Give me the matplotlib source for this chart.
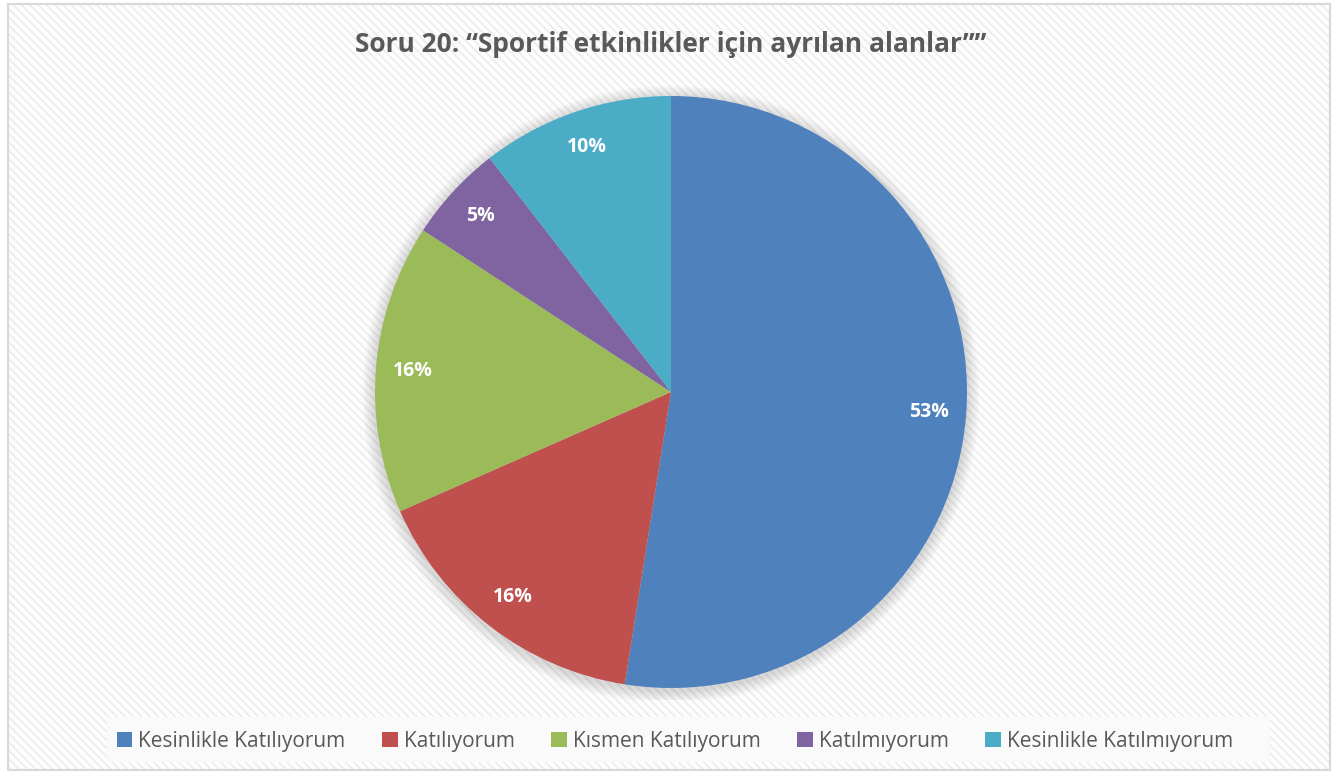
import matplotlib
matplotlib.use("Agg")
import matplotlib.pyplot as plt
from matplotlib.patches import Rectangle, Circle

categories = ["Kesinlikle Katılıyorum", "Katılıyorum", "Kısmen Katılıyorum",
              "Katılmıyorum", "Kesinlikle Katılmıyorum"]
values = [52.5, 15.9, 15.8, 5.3, 10.5]
value_labels = ["53%", "16%", "16%", "5%", "10%"]
colors = ["#4F81BD", "#C0504D", "#9BBB59", "#8064A2", "#4BACC6"]
title = "Soru 20: \u201cSportif etkinlikler için ayrılan alanlar\u201d\u201d"

W, H = 1335, 775
fig = plt.figure(figsize=(W / 100, H / 100), dpi=100)
fig.patch.set_facecolor("white")

def fx(px):
    return px / W

def fy(py):
    return 1 - py / H

# background chart area with diagonal hatch and border
plt.rcParams['hatch.linewidth'] = 1.2
bg = Rectangle((fx(8), fy(770)), fx(1330) - fx(8), fy(4) - fy(770),
               transform=fig.transFigure, facecolor="#fdfdfd",
               edgecolor="#ececec", hatch="\\\\\\\\", lw=0, zorder=-3)
fig.patches.append(bg)
border = Rectangle((fx(8), fy(770)), fx(1330) - fx(8), fy(4) - fy(770),
                   transform=fig.transFigure, facecolor="none",
                   edgecolor="#d9d9d9", lw=1.5, zorder=-2)
fig.patches.append(border)

# legend band
band = Rectangle((fx(107), fy(762)), fx(1270) - fx(107), fy(717) - fy(762),
                 transform=fig.transFigure, facecolor="#fafafa",
                 edgecolor="none", zorder=-2)
fig.patches.append(band)

font = ["Open Sans", "DejaVu Sans"]

fig.text(fx(671), fy(45), title, ha="center", va="center", fontsize=19,
         fontweight="bold", color="#595959", family=font)

cx, cy, r = 671, 392, 296
pad = 12
ax = fig.add_axes([fx(cx - r - pad), fy(cy + r + pad), (2 * r + 2 * pad) / W,
                   (2 * r + 2 * pad) / H])
ax.axis("off")

lim = 1 + pad / r
# soft shadow
for i in range(6):
    ax.add_patch(Circle((0.0, -0.008), 1.0 + 0.007 * (i + 1), color="black",
                        alpha=0.022, lw=0, zorder=0))

wedges, texts = ax.pie(
    values, colors=colors, startangle=90, counterclock=False, radius=1,
    labels=value_labels, labeldistance=0.875,
    wedgeprops=dict(edgecolor="none", linewidth=0),
    textprops=dict(color="white", fontsize=14, fontweight="bold", family=font,
                   ha="center", va="center"))
for w in wedges:
    w.set_zorder(2)
for t in texts:
    t.set_zorder(3)
    t.set_horizontalalignment("center")
    t.set_verticalalignment("center")
ax.set_xlim(-lim, lim)
ax.set_ylim(-lim, lim)

handles = [Rectangle((0, 0), 1, 1, facecolor=c, edgecolor="none") for c in colors]
leg = fig.legend(handles, categories, loc="center", bbox_to_anchor=(fx(675), fy(741)),
                 ncol=5, frameon=False, handlelength=0.75, handleheight=0.75,
                 handletextpad=0.3, columnspacing=1.75,
                 prop=dict(family=font, size=15))
for t in leg.get_texts():
    t.set_color("#595959")

fig.savefig("out.png", dpi=100, facecolor="white")
